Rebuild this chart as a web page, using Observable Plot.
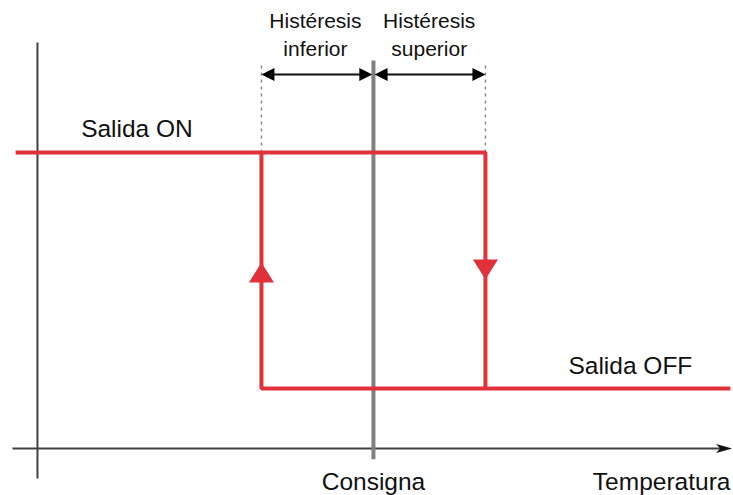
<!DOCTYPE html>
<html><head><meta charset="utf-8">
<script src="https://cdn.jsdelivr.net/npm/d3@7"></script>
<script src="https://cdn.jsdelivr.net/npm/@observablehq/plot@0.6"></script>
<style>body{margin:0;background:#fff}</style>
</head><body><div id="chart"></div>
<script>
// Conceptual values (temperature units relative to setpoint, output level 0/1)
const setpoint = 0;
const hystLower = -2;
const hystUpper = 2;
const tempStart = -6.39;
const tempEnd = 6.375;
const levelOn = 1;
const levelOff = 0;
const axisOriginTemp = -6;
const axisOriginLevel = -0.254;
const axisTempMin = -6.446, axisTempMax = 6.405;
const axisLevelMin = -0.381, axisLevelMax = 1.466;
const guideTop = 1.381;
const setpointTop = 1.39, setpointBottom = -0.30;
const bracketLevel = 1.331;
const arrowUpLevel = 0.534, arrowDownLevel = 0.462;

const labelTexts = ["Salida ON", "Salida OFF", "Consigna", "Temperatura"];
const labelTemps = [-5.22, 3.482, 0, 6.375];
const labelLevels = [1.065, 0.062, -0.428, -0.428];
const labelAnchors = ["start", "start", "middle", "end"];
const hystTexts = ["Histéresis\ninferior", "Histéresis\nsuperior"];
const hystTemps = [-1.036, 0.996];
const hystLevel = 1.411;

const RED = "#e0303a";
const AXIS = "#404040";

// loop path (two pieces)
const loop = [
  {s: "heat", t: tempStart, v: levelOn}, {s: "heat", t: hystUpper, v: levelOn}, {s: "heat", t: hystUpper, v: levelOff},
  {s: "cool", t: hystLower, v: levelOn}, {s: "cool", t: hystLower, v: levelOff}, {s: "cool", t: tempEnd, v: levelOff}
];
const labels = labelTexts.map((text, i) => ({text, t: labelTemps[i], v: labelLevels[i], a: labelAnchors[i]}));
const hyst = hystTexts.map((text, i) => ({text, t: hystTemps[i], v: hystLevel}));

function head(len, wid, dir, notch = 0) {
  const rot = ([a, b]) => dir === "up" ? [a, b] : dir === "down" ? [a, -b] : dir === "left" ? [b, a] : [-b, a];
  const pts = [[0, 0], [wid / 2, len], [0, len - notch], [-wid / 2, len]].map(rot);
  return {draw(ctx) { ctx.moveTo(...pts[0]); for (let i = 1; i < pts.length; i++) ctx.lineTo(...pts[i]); ctx.closePath(); }};
}

const textMarks = ["start", "middle", "end"].map(anchor =>
  Plot.text(labels.filter(d => d.a === anchor), {x: "t", y: "v", text: "text", textAnchor: anchor, lineAnchor: "bottom", fontSize: 24.5, fill: "#111"})
);

const chart = Plot.plot({
  width: 733, height: 495, margin: 0,
  x: {domain: [-6.66, 6.43], range: [0, 733], axis: null},
  y: {domain: [-0.4534, 1.6441], range: [495, 0], axis: null},
  style: {fontFamily: "'Liberation Sans', Arial, sans-serif", background: "#fff", color: "#111"},
  marks: [
    // axes
    Plot.link([{}], {x1: axisOriginTemp, x2: axisOriginTemp, y1: axisLevelMin, y2: axisLevelMax, stroke: AXIS, strokeWidth: 2}),
    Plot.link([{}], {x1: axisTempMin, x2: axisTempMax - 0.15, y1: axisOriginLevel, y2: axisOriginLevel, stroke: AXIS, strokeWidth: 2}),
    Plot.dot([{}], {x: axisTempMax, y: axisOriginLevel, r: 8, symbol: head(16, 9, "right", 4), fill: "#111", stroke: "none"}),
    // dashed hysteresis guides
    Plot.link([hystLower, hystUpper], {x1: d => d, x2: d => d, y1: levelOn, y2: guideTop, stroke: "#8a8a8a", strokeWidth: 1.5, strokeDasharray: "3,4"}),
    // setpoint line
    Plot.link([setpoint], {x1: d => d, x2: d => d, y1: setpointBottom, y2: setpointTop, stroke: "#808080", strokeWidth: 4}),
    // bracket arrows
    Plot.link([[hystLower, setpoint], [setpoint, hystUpper]], {x1: d => d[0] + 0.15, x2: d => d[1] - 0.15, y1: bracketLevel, y2: bracketLevel, stroke: "#111", strokeWidth: 2}),
    Plot.dot([hystLower, setpoint + 0.02], {x: d => d, y: bracketLevel, r: 8, symbol: head(13, 13, "left"), fill: "#000", stroke: "none"}),
    Plot.dot([setpoint - 0.02, hystUpper], {x: d => d, y: bracketLevel, r: 8, symbol: head(13, 13, "right"), fill: "#000", stroke: "none"}),
    // hysteresis loop
    Plot.line(loop, {x: "t", y: "v", z: "s", stroke: RED, strokeWidth: 4, strokeLinejoin: "miter", strokeLinecap: "butt", curve: "linear"}),
    Plot.dot([{}], {x: hystLower, y: arrowUpLevel, r: 10, symbol: head(20, 25, "up"), fill: RED, stroke: "none"}),
    Plot.dot([{}], {x: hystUpper, y: arrowDownLevel, r: 10, symbol: head(20, 25, "down"), fill: RED, stroke: "none"}),
    // labels
    ...textMarks,
    Plot.text(hyst, {x: "t", y: "v", text: "text", textAnchor: "middle", lineAnchor: "bottom", fontSize: 21, lineHeight: 1.29, fill: "#111"})
  ]
});
document.getElementById("chart").appendChild(chart);
</script>
</body></html>
